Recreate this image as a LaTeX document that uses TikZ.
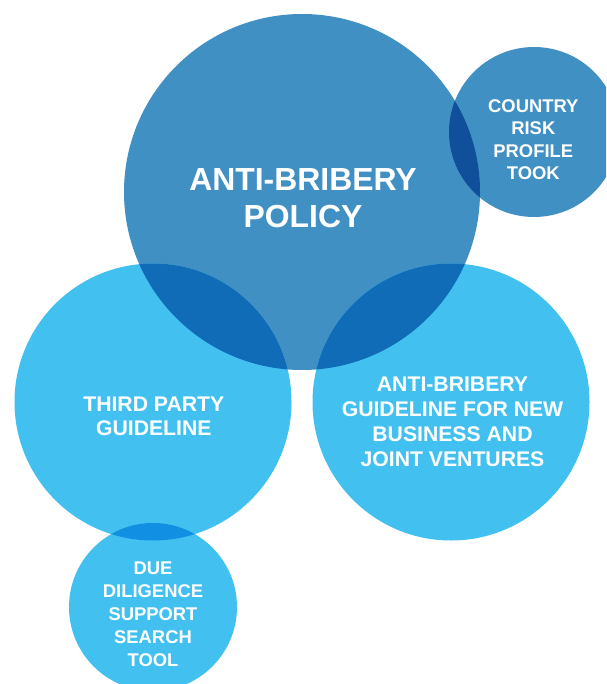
\documentclass[tikz,border=0pt]{standalone}
\usepackage{fontspec}
\setmainfont{Liberation Sans}
\definecolor{darkb}{HTML}{4190C4}
\definecolor{darkdark}{HTML}{10509A}
\definecolor{lightb}{HTML}{42C1F1}
\definecolor{lightdark}{HTML}{116CB8}
\definecolor{lightlight}{HTML}{1190E3}
\tikzset{
  bubble/.style={circle, inner sep=0pt, outer sep=0pt, draw=none},
  lbl/.style={text=white, align=center, inner sep=0pt, font=\bfseries}
}
\begin{document}
\begin{tikzpicture}[x=1pt,y=-1pt]
\useasboundingbox (0,0) rectangle (606,684);
\begin{scope}
\clip (0,0) rectangle (606,684);
% base circles
\node[bubble, fill=darkb, minimum size=356pt] (policy) at (302,192) {};
\node[bubble, fill=darkb, minimum size=170pt] (country) at (534,132) {};
\node[bubble, fill=lightb, minimum size=277pt] (third) at (153,402) {};
\node[bubble, fill=lightb, minimum size=277pt] (newbiz) at (451,402) {};
\node[bubble, fill=lightb, minimum size=168pt] (due) at (153,607) {};
% overlaps
\begin{scope}
  \clip (policy.center) circle[radius=178pt];
  \fill[darkdark] (country.center) circle[radius=85pt];
\end{scope}
\begin{scope}
  \clip (policy.center) circle[radius=178pt];
  \fill[lightdark] (third.center) circle[radius=138.5pt];
  \fill[lightdark] (newbiz.center) circle[radius=138.5pt];
\end{scope}
\begin{scope}
  \clip (third.center) circle[radius=138.5pt];
  \fill[lightlight] (due.center) circle[radius=84pt];
\end{scope}
\end{scope}
% labels
\node[lbl, font=\bfseries\fontsize{31.9}{37}\selectfont] (tpolicy) at (303,198.5) {ANTI-BRIBERY\\POLICY};
\node[lbl, font=\bfseries\fontsize{18.4}{22.2}\selectfont] (tcountry) at (533.3,139.7) {COUNTRY\\RISK\\PROFILE\\TOOK};
\node[lbl, font=\bfseries\fontsize{21.2}{24}\selectfont] (tthird) at (153.8,416.2) {THIRD PARTY\\GUIDELINE};
\node[lbl, font=\bfseries\fontsize{21.2}{25.2}\selectfont] (tnewbiz) at (452.5,422) {ANTI-BRIBERY\\GUIDELINE FOR NEW\\BUSINESS AND\\JOINT VENTURES};
\node[lbl, font=\bfseries\fontsize{18.4}{22.9}\selectfont] (tdue) at (153,614.2) {DUE\\DILIGENCE\\SUPPORT\\SEARCH\\TOOL};
\end{tikzpicture}
\end{document}
